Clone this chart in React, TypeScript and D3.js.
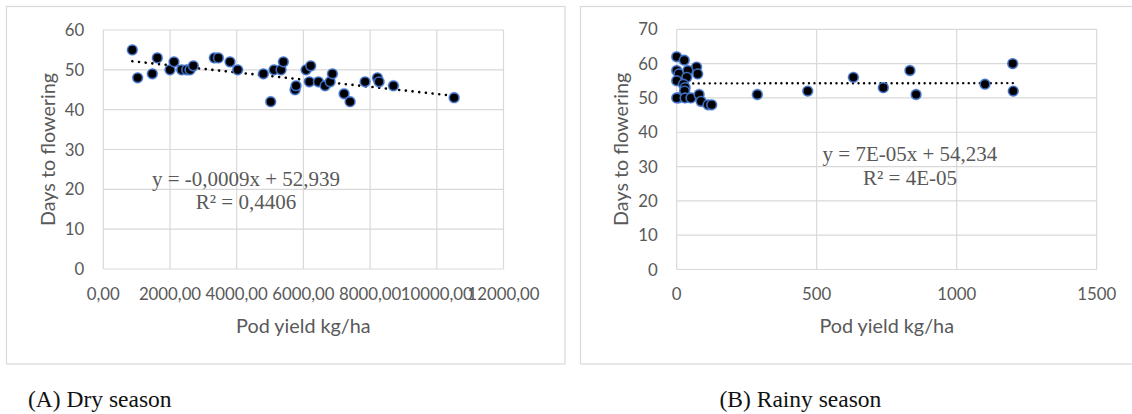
import React from "react";
import * as d3 from "d3";

// Dry season: pod yield (kg/ha) vs days to flowering
const dryYield = [870, 1030, 1470, 1620, 2000, 2120, 2350, 2500, 2600, 2700, 3330, 3450, 3800, 4030, 4800, 5020, 5120, 5330, 5400, 5750, 5780, 6080, 6220, 6180, 6450, 6650, 6800, 6870, 7220, 7400, 7850, 8220, 8270, 8700, 10520];
const dryDays = [55, 48, 49, 53, 50, 52, 50, 50, 50, 51, 53, 53, 52, 50, 49, 42, 50, 50, 52, 45, 46, 50, 51, 47, 47, 46, 47, 49, 44, 42, 47, 48, 47, 46, 43];

// Rainy season
const rainyYield = [0, 27, 71, 75, 0, 8, 40, 0, 36, 24, 30, 28, 6, 0, 30, 51, 80, 87, 112, 125, 288, 468, 631, 738, 833, 855, 1101, 1200, 1202];
const rainyDays = [62, 61, 59, 57, 58, 57, 58, 55, 56, 54, 53, 52, 50, 50, 50, 50, 51, 49, 48, 48, 51, 52, 56, 53, 58, 51, 54, 60, 52];

const dryXTicks = [0, 2000, 4000, 6000, 8000, 10000, 12000];
const dryYTicks = [0, 10, 20, 30, 40, 50, 60];
const rainyXTicks = [0, 500, 1000, 1500];
const rainyYTicks = [0, 10, 20, 30, 40, 50, 60, 70];

const dryTrend = { slope: -0.0009, intercept: 52.939 };
const rainyTrend = { slope: 0.00007, intercept: 54.234 };

const dryEq = ["y = -0,0009x + 52,939", "R² = 0,4406"];
const rainyEq = ["y = 7E-05x + 54,234", "R² = 4E-05"];

const GRID = "#d9d9d9";
const TEXT = "#595959";
const SANS = "Lato, 'Open Sans', sans-serif";
const SERIF = "'Liberation Serif', 'Times New Roman', serif";

type PanelProps = {
  xs: number[];
  ys: number[];
  xTicks: number[];
  yTicks: number[];
  xRange: [number, number];
  yRange: [number, number];
  trend: { slope: number; intercept: number };
  eq: string[];
  eqX: number;
  eqY: [number, number];
  yTitleX: number;
  fmt: (d: number) => string;
  dotW: number;
  dotGap: number;
};

function Panel(p: PanelProps) {
  const x = d3
    .scaleLinear()
    .domain([p.xTicks[0], p.xTicks[p.xTicks.length - 1]])
    .range(p.xRange);
  const y = d3
    .scaleLinear()
    .domain([p.yTicks[0], p.yTicks[p.yTicks.length - 1]])
    .range(p.yRange);
  const [x0, x1] = p.xRange;
  const [y0, y1] = p.yRange; // y0 bottom, y1 top
  const xmin = d3.min(p.xs) as number;
  const xmax = d3.max(p.xs) as number;
  const line = d3
    .line<number>()
    .x((d) => x(d))
    .y((d) => y(p.trend.slope * d + p.trend.intercept));
  const pts = p.xs.map((v, i) => [v, p.ys[i]]);
  return (
    <g>
      {p.yTicks.map((t) => (
        <line key={"h" + t} x1={x0} x2={x1} y1={y(t)} y2={y(t)} stroke={GRID} strokeWidth={1.2} />
      ))}
      {p.xTicks.map((t) => (
        <line key={"v" + t} x1={x(t)} x2={x(t)} y1={y1} y2={y0} stroke={GRID} strokeWidth={1.2} />
      ))}
      {p.yTicks.map((t) => (
        <text key={"yl" + t} x={x0 - 19} y={y(t)} dy="0.36em" textAnchor="end" fontFamily={SANS} fontSize={16.8} fill={TEXT}>
          {t}
        </text>
      ))}
      {p.xTicks.map((t) => (
        <text key={"xl" + t} x={x(t)} y={294} dy="0.36em" textAnchor="middle" fontFamily={SANS} fontSize={16.8} fill={TEXT}>
          {p.fmt(t)}
        </text>
      ))}
      <text x={(x0 + x1) / 2} y={326} dy="0.36em" textAnchor="middle" fontFamily={SANS} fontSize={19.8} fill={TEXT}>
        Pod yield kg/ha
      </text>
      <text
        transform={`translate(${p.yTitleX},${(y0 + y1) / 2}) rotate(-90)`}
        dy="0.36em"
        textAnchor="middle"
        fontFamily={SANS}
        fontSize={19.8}
        fill={TEXT}
      >
        Days to flowering
      </text>
      <path
        d={line([xmin, xmax]) as string}
        fill="none"
        stroke="#000"
        strokeWidth={p.dotW}
        strokeDasharray={`0.01 ${p.dotGap}`}
        strokeLinecap="round"
      />
      {pts.map(([a, b], i) => (
        <g key={"p" + i}>
          <circle cx={x(a)} cy={y(b)} r={5.9} fill="#4f7fd1" opacity={0.5} />
          <circle cx={x(a)} cy={y(b)} r={4.7} fill="#000" stroke="#3d6ec6" strokeWidth={1.3} />
        </g>
      ))}
      <text x={p.eqX} y={p.eqY[0]} dy="0.35em" textAnchor="middle" fontFamily={SERIF} fontSize={21} fill={TEXT}>
        {p.eq[0]}
      </text>
      <text x={p.eqX} y={p.eqY[1]} dy="0.35em" textAnchor="middle" fontFamily={SERIF} fontSize={21} fill={TEXT}>
        {p.eq[1]}
      </text>
    </g>
  );
}

export default function App() {
  const dryFmt = (d: number) => d.toFixed(2).replace(".", ",");
  const rainyFmt = (d: number) => String(d);
  return (
    <svg
      width={1132}
      height={414}
      viewBox="0 0 1132 414"
      style={{ position: "absolute", left: 0, top: 0, display: "block", background: "#fff" }}
    >
      <rect x={0} y={0} width={1132} height={414} fill="#fff" />
      <rect x={6.5} y={6.5} width={558.5} height={357.5} fill="#fff" stroke={GRID} strokeWidth={1.2} />
      <rect x={580.5} y={6.5} width={560} height={357.5} fill="#fff" stroke={GRID} strokeWidth={1.2} />
      <Panel
        xs={dryYield}
        ys={dryDays}
        xTicks={dryXTicks}
        yTicks={dryYTicks}
        xRange={[103.3, 503.5]}
        yRange={[269, 30]}
        trend={dryTrend}
        eq={dryEq}
        eqX={246}
        eqY={[179, 202]}
        yTitleX={48}
        fmt={dryFmt}
        dotW={2.6}
        dotGap={6.7}
      />
      <Panel
        xs={rainyYield}
        ys={rainyDays}
        xTicks={rainyXTicks}
        yTicks={rainyYTicks}
        xRange={[676.7, 1096.7]}
        yRange={[269.5, 29.3]}
        trend={rainyTrend}
        eq={rainyEq}
        eqX={910}
        eqY={[153.5, 178]}
        yTitleX={621}
        fmt={rainyFmt}
        dotW={2.4}
        dotGap={5.5}
      />
      <text x={28} y={399} dy="0.35em" fontFamily={SERIF} fontSize={23.5} fill="#111">
        (A) Dry season
      </text>
      <text x={719.5} y={399} dy="0.35em" fontFamily={SERIF} fontSize={23.5} fill="#111">
        (B) Rainy season
      </text>
    </svg>
  );
}
